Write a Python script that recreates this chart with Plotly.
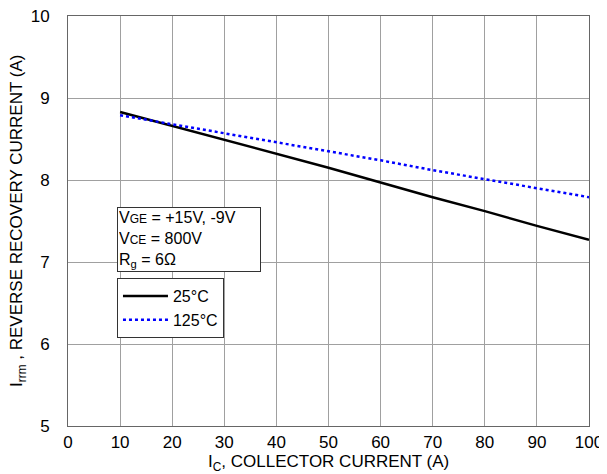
import plotly.graph_objects as go

ic = [10, 20, 30, 40, 50, 60, 70, 80, 90, 100]
irrm_25 = [8.83, 8.66, 8.49, 8.32, 8.15, 7.97, 7.79, 7.62, 7.44, 7.27]
irrm_125 = [8.79, 8.68, 8.57, 8.46, 8.35, 8.24, 8.12, 8.01, 7.90, 7.79]
x_ticks = [0, 10, 20, 30, 40, 50, 60, 70, 80, 90, 100]
y_ticks = [5, 6, 7, 8, 9, 10]

fig = go.Figure()
fig.add_trace(go.Scatter(x=ic, y=irrm_25, mode="lines", name="25°C",
                         line=dict(color="black", width=2.5)))
fig.add_trace(go.Scatter(x=ic, y=irrm_125, mode="lines", name="125°C",
                         line=dict(color="#0000ff", width=2.5, dash="dot")))

font = "Liberation Sans, Arial, sans-serif"
fig.update_layout(
    width=599, height=466,
    margin=dict(l=60, r=18, t=8, b=48, autoexpand=False),
    paper_bgcolor="white", plot_bgcolor="white",
    font=dict(family=font, color="black", size=16),
    showlegend=True,
    legend=dict(x=0.094, y=0.361, xanchor="left", yanchor="top",
                bordercolor="#333333", borderwidth=1, bgcolor="white",
                font=dict(size=16), tracegroupgap=0, itemwidth=45),
    annotations=[
        dict(xref="paper", yref="paper", x=0.094, y=0.534, xanchor="left", yanchor="top",
             text="V<span style='font-size:12px'>GE</span> = +15V, -9V<br>V<span style='font-size:12px'>CE</span> = 800V<br>R<sub>g</sub> = 6Ω",
             showarrow=False, align="left", bordercolor="#333333", borderwidth=1,
             borderpad=1, bgcolor="white", font=dict(size=16), width=140),
        dict(xref="paper", yref="paper", x=0.5, y=0, yshift=-24, xanchor="center", yanchor="top",
             text="I<sub>C</sub>, COLLECTOR CURRENT (A)", showarrow=False, font=dict(size=17)),
        dict(xref="paper", yref="paper", x=0, xshift=-50, y=0.5, xanchor="center", yanchor="middle",
             text="I<sub>rrm</sub> , REVERSE RECOVERY CURRENT (A)", textangle=-90,
             showarrow=False, font=dict(size=17)),
    ],
)
fig.update_xaxes(range=[0, 100], tickvals=x_ticks, showgrid=True, gridcolor="#a0a0a0",
                 gridwidth=1, zeroline=False, showline=True, linecolor="#666666",
                 mirror=True, ticks="", tickfont=dict(size=17), automargin=False,
                 ticklabelstandoff=1, ticklabeloverflow="allow")
fig.update_yaxes(range=[5, 10], tickvals=y_ticks, showgrid=True, gridcolor="#a0a0a0",
                 gridwidth=1, zeroline=False, showline=True, linecolor="#666666",
                 mirror=True, ticks="", tickfont=dict(size=17), ticklabelstandoff=14,
                 automargin=False, ticklabeloverflow="allow")
fig.write_html("out.html")
